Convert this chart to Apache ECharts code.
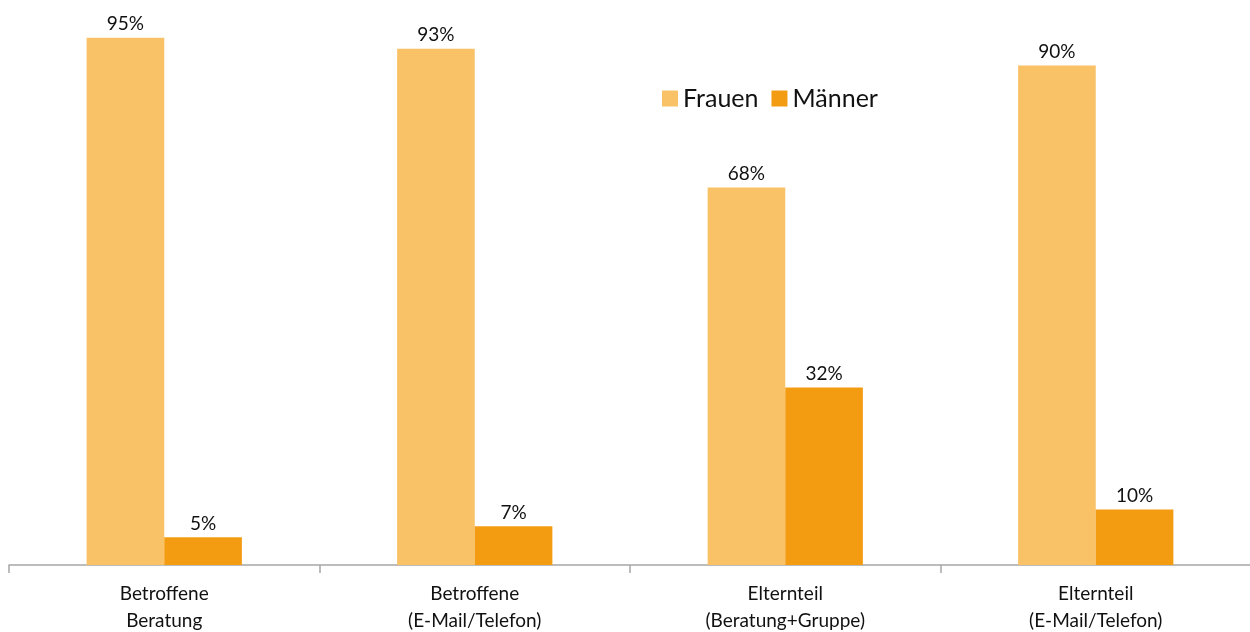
<!DOCTYPE html>
<html>
<head>
<meta charset="utf-8">
<script src="https://cdn.jsdelivr.net/npm/echarts@6/dist/echarts.min.js"></script>
<style>
  html, body { margin: 0; padding: 0; background: #fff; }
  #chart { width: 1250px; height: 632px; }
</style>
</head>
<body>
<div id="chart"></div>
<script>
// Gruppen und Anteile (in Prozent)
const categories = [
  'Betroffene\nBeratung',
  'Betroffene\n(E-Mail/Telefon)',
  'Elternteil\n(Beratung+Gruppe)',
  'Elternteil\n(E-Mail/Telefon)'
];
const frauen = [95, 93, 68, 90];
const maenner = [5, 7, 32, 10];

const FONT = 'Lato, "Open Sans", sans-serif';

const valueLabel = {
  show: true,
  position: 'top',
  distance: 4,
  formatter: '{c}%',
  fontSize: 19,
  color: '#111',
  fontFamily: FONT
};

const chart = echarts.init(document.getElementById('chart'));
chart.setOption({
  animation: false,
  textStyle: { fontFamily: FONT },
  legend: {
    data: ['Frauen', 'Männer'],
    left: 657,
    top: 81,
    itemWidth: 16,
    itemHeight: 16,
    itemGap: 13,
    icon: 'rect',
    textStyle: { fontSize: 25, color: '#111', fontFamily: FONT }
  },
  grid: {
    left: 9,
    top: 10,
    width: 1242,
    bottom: 67,
    containLabel: false,
    outerBoundsMode: 'none'
  },
  xAxis: {
    type: 'category',
    data: categories,
    axisLine: { lineStyle: { color: '#a6a6a6', width: 1.5 } },
    axisTick: { show: true, length: 8, lineStyle: { color: '#a6a6a6', width: 1.5 } },
    axisLabel: {
      fontSize: 19,
      color: '#111',
      lineHeight: 27,
      margin: 15,
      fontFamily: FONT
    }
  },
  yAxis: {
    type: 'value',
    min: 0,
    max: 100,
    show: false,
    splitLine: { show: false }
  },
  series: [
    {
      name: 'Frauen',
      type: 'bar',
      data: frauen,
      barGap: '0%',
      barCategoryGap: '50%',
      itemStyle: { color: '#F9C266' },
      label: valueLabel
    },
    {
      name: 'Männer',
      type: 'bar',
      data: maenner,
      itemStyle: { color: '#F39C12' },
      label: valueLabel
    }
  ]
});
</script>
</body>
</html>
